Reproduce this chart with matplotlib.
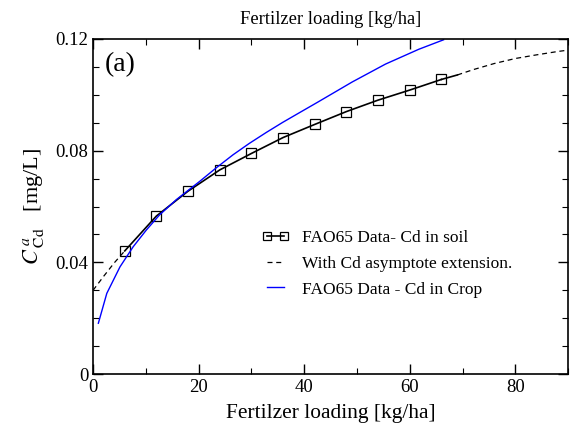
import matplotlib
matplotlib.use("Agg")
import matplotlib.pyplot as plt
from matplotlib.ticker import MultipleLocator

plt.rcParams['font.family'] = ['Liberation Serif', 'DejaVu Serif']
plt.rcParams['mathtext.fontset'] = 'stix'

# FAO65 soil data (squares)
soil_x = [6, 12, 18, 24, 30, 36, 42, 48, 54, 60, 66]
soil_y = [0.0441, 0.0566, 0.0655, 0.0731, 0.0790, 0.0847, 0.0894, 0.0940, 0.0981, 0.1017, 0.1055]
soil_end_x = [66, 69]
soil_end_y = [0.1055, 0.1071]

# asymptote extension (dashed)
ext_lo_x = [0, 2, 4, 6]
ext_lo_y = [0.0300, 0.0350, 0.0398, 0.0441]
ext_hi_x = [69, 72, 76, 80, 84, 88, 90]
ext_hi_y = [0.1071, 0.1090, 0.1112, 0.1130, 0.1143, 0.1155, 0.1160]

# FAO65 crop data (blue)
crop_x = [1.0, 2.6, 5.1, 7.6, 10.1, 12.6, 15.8, 18.3, 20.2, 23.3, 26.5, 29.6,
          32.8, 35.9, 39.1, 42.5, 49.1, 55.4, 61.7, 66.4]
crop_y = [0.0182, 0.0289, 0.0384, 0.0456, 0.0516, 0.0570, 0.0625, 0.0662, 0.0690, 0.0738, 0.0785, 0.0826,
          0.0865, 0.0901, 0.0936, 0.0973, 0.1046, 0.1110, 0.1163, 0.1197]

fig = plt.figure(figsize=(5.71, 4.28), dpi=100)
ax = fig.add_axes([0.163, 0.126, 0.832, 0.783])

ax.plot(soil_x, soil_y, color='black', lw=1.2, marker='s', ms=7,
        mfc='none', mec='black', mew=0.9, label='FAO65 Data- Cd in soil')
ax.plot(soil_end_x, soil_end_y, color='black', lw=1.2)
ax.plot(ext_hi_x, ext_hi_y, color='black', lw=0.9, ls=(0, (4, 3)),
        label='With Cd asymptote extension.')
ax.plot(ext_lo_x, ext_lo_y, color='black', lw=0.9, ls=(0, (4, 3)))
ax.plot(crop_x, crop_y, color='blue', lw=1.0, label='FAO65 Data - Cd in Crop')

ax.set_xlim(0, 90)
ax.set_ylim(0, 0.12)
ax.xaxis.set_major_locator(MultipleLocator(20))
ax.xaxis.set_minor_locator(MultipleLocator(10))
ax.yaxis.set_minor_locator(MultipleLocator(0.01))
ax.set_yticks([0, 0.04, 0.08, 0.12])
ax.set_yticklabels(['0', '0.04', '0.08', '0.12'])
ax.tick_params(which='both', direction='in', top=True, right=True, labelsize=13.5)
ax.tick_params(which='major', length=7, width=1.0)
ax.tick_params(which='minor', length=4, width=0.8)
for s in ax.spines.values():
    s.set_linewidth(1.2)

ax.set_xlabel('Fertilzer loading [kg/ha]', fontsize=15.4, labelpad=6)
ax.set_ylabel(r'$C^{\,a}_{\;\rm Cd}$   [mg/L]', fontsize=16, labelpad=7)
ax.set_title('Fertilzer loading [kg/ha]', fontsize=13.3, pad=10.5)
ax.text(0.025, 0.96, '(a)', transform=ax.transAxes, fontsize=20, va='top', ha='left')

ax.legend(loc='upper left', bbox_to_anchor=(0.355, 0.43), frameon=False, fontsize=12.5,
          borderaxespad=0, borderpad=0, numpoints=2,
          handlelength=1.6, handletextpad=0.7, labelspacing=0.55, markerscale=0.75)

fig.savefig('out.png', dpi=100)
